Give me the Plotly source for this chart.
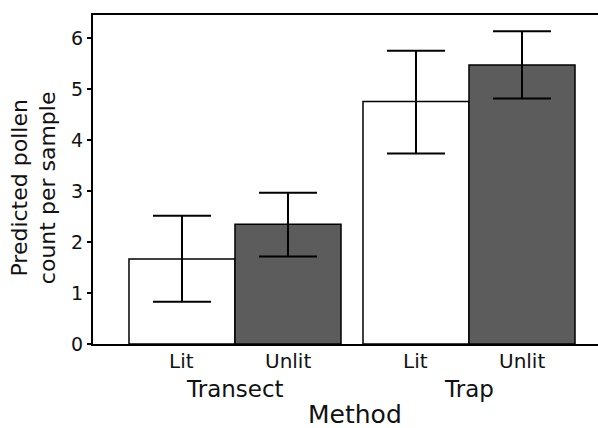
import plotly.graph_objects as go

methods = ["Transect", "Trap"]
lights = ["Lit", "Unlit"]
lit_vals = [1.67, 4.76]
lit_hi = [2.52, 5.76]
lit_lo = [0.83, 3.74]
unlit_vals = [2.35, 5.48]
unlit_hi = [2.97, 6.14]
unlit_lo = [1.72, 4.82]
y_ticks = [0, 1, 2, 3, 4, 5, 6]

FONT = "DejaVu Sans"
bargap = 0.094
bar_w = (1 - bargap) / 2
gx = list(range(len(methods)))

fig = go.Figure()
for name, vals, hi, lo, col in [
    (lights[0], lit_vals, lit_hi, lit_lo, "white"),
    (lights[1], unlit_vals, unlit_hi, unlit_lo, "#5c5c5c"),
]:
    fig.add_trace(go.Bar(
        x=gx, y=vals, name=name,
        marker=dict(color=col, line=dict(color="black", width=1.5)),
        error_y=dict(type="data", symmetric=False,
                     array=[h - v for h, v in zip(hi, vals)],
                     arrayminus=[v - l for l, v in zip(lo, vals)],
                     color="black", thickness=2, width=29),
        showlegend=False,
    ))

annotations = []
for i, m in enumerate(gx):
    for j, lab in enumerate(lights):
        cx = m + (j - 0.5) * bar_w
        annotations.append(dict(x=cx, y=-0.052, xref="x", yref="paper", text=lab,
                                showarrow=False, xanchor="center", yanchor="middle",
                                font=dict(family=FONT, size=20, color="#111")))
    annotations.append(dict(x=m, y=-0.137, xref="x", yref="paper", text=methods[i],
                            showarrow=False, xanchor="center", yanchor="middle",
                            font=dict(family=FONT, size=23, color="#111")))
annotations.append(dict(x=0.519, y=-0.2147, xref="paper", yref="paper", text="Method",
                        showarrow=False, xanchor="center", yanchor="middle",
                        font=dict(family=FONT, size=25, color="#111")))
annotations.append(dict(x=-0.118, y=0.475, xref="paper", yref="paper",
                        text="Predicted pollen<br>count per sample", textangle=-90,
                        showarrow=False, xanchor="center", yanchor="middle",
                        font=dict(family=FONT, size=22, color="#111")))

fig.update_layout(
    width=598, height=428,
    margin=dict(l=93, r=0, t=15, b=84),
    paper_bgcolor="white", plot_bgcolor="white",
    barmode="group", bargap=bargap, bargroupgap=0,
    annotations=annotations,
    xaxis=dict(range=[-0.6068, 1.5513], showticklabels=False, ticks="",
               showgrid=False, zeroline=False, showline=True, linecolor="black",
               linewidth=2, mirror=True),
    yaxis=dict(range=[0, 6.46], tickvals=y_ticks, ticks="outside", ticklen=4,
               tickwidth=1.5, tickcolor="black", showgrid=False, zeroline=False,
               showline=True, linecolor="black", linewidth=2,
               tickfont=dict(family=FONT, size=19, color="#111")),
)
fig.write_html("out.html", config={"displayModeBar": False},
               post_script="document.body.style.margin='0';document.body.style.overflow='hidden';")
